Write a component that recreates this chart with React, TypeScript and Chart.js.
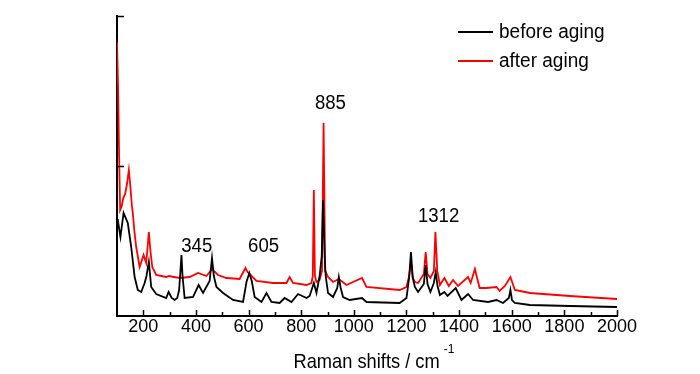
import React, { useEffect, useRef } from "react";
import { Chart, registerables } from "chart.js";

Chart.register(...registerables);

// ---- data (Raman shift in cm^-1, intensity in arbitrary units) ----
const beforeShift = [
  100, 103, 113, 125, 141, 154, 167, 179, 192, 205, 212, 221, 230, 249, 287, 296, 308, 319, 329, 336,
  341, 345, 349, 357, 389, 410, 427, 452, 461, 468, 478, 503, 541, 579, 592, 603, 612, 623, 649, 668, 687,
  718, 737, 763, 788, 820, 832, 848, 858, 870, 878, 883, 889, 893, 902, 921, 937, 943, 950, 959, 984,
  1031, 1048, 1174, 1200, 1210, 1217, 1224, 1232, 1244, 1266, 1273, 1280, 1291, 1304, 1311, 1318, 1327,
  1344, 1356, 1387, 1409, 1434, 1453, 1510, 1542, 1567, 1589, 1595, 1601, 1612, 1669, 1821, 2000,
];
const beforeIntensity = [
  97, 96, 79, 103, 93, 69, 39, 26, 24, 33, 40, 54, 29, 22, 18, 24, 18, 16, 18, 26,
  45, 61, 40, 18, 19, 31, 23, 35, 58, 40, 29, 23, 16, 14, 34, 43, 35, 19, 14, 23, 14,
  13, 18, 14, 22, 18, 20, 33, 23, 40, 60, 116, 60, 40, 23, 19, 28, 39, 28, 19, 16,
  18, 14, 13, 18, 38, 64, 38, 29, 24, 32, 51, 32, 24, 33, 44, 30, 21,
  24, 20, 28, 16, 22, 16, 14, 16, 13, 18, 26, 16, 13, 11, 10, 9,
];
const afterShift = [
  100, 104, 108, 112, 118, 124, 131, 138, 145, 150, 156, 160, 166, 173, 186, 201, 211, 215, 221, 227,
  234, 249, 287, 297, 338, 376, 408, 440, 461, 484, 516, 566, 588, 596, 604, 630, 693, 744, 756, 769,
  820, 839, 844, 848, 852, 858, 870, 879, 885, 891, 902, 921, 943, 972, 1031, 1048, 1174, 1200, 1210,
  1217, 1224, 1232, 1244, 1266, 1273, 1280, 1291, 1304, 1310, 1317, 1327, 1344, 1361, 1377, 1396, 1434,
  1444, 1460, 1478, 1504, 1542, 1554, 1574, 1595, 1612, 1669, 1821, 2000,
];
const afterIntensity = [
  274, 230, 160, 106, 110, 118, 122, 132, 146, 132, 112, 103, 85, 69, 49, 61, 53, 65, 84, 65,
  49, 41, 39, 40, 38, 39, 43, 40, 47, 41, 38, 37, 48, 44, 42, 35, 33, 33, 39, 33,
  31, 33, 40, 126, 40, 34, 36, 45, 193, 45, 39, 34, 37, 31, 38, 29, 26, 29, 40,
  54, 38, 34, 33, 42, 64, 42, 38, 45, 84, 45, 31, 38, 30, 36, 30, 39,
  33, 47, 28, 28, 29, 25, 30, 39, 26, 23, 20, 17,
];

const seriesLabels = ["before aging", "after aging"];
const seriesColors = ["#000000", "#ff0000"];

const xTickValues = [200, 400, 600, 800, 1000, 1200, 1400, 1600, 1800, 2000];
const xMinorTickValues = [300, 500, 700, 900, 1100, 1300, 1500, 1700, 1900];
const yTickValues = [150, 300];

const peakLabels = ["345", "605", "885", "1312"];
const peakLabelX = [403, 657, 911, 1322];
const peakLabelY = [64, 64, 207, 94];

const axisTitle = "Raman shifts / cm";
const axisTitleSup = "-1";

const FONT = "'Liberation Sans', Arial, sans-serif";

function drawText(
  ctx: CanvasRenderingContext2D,
  text: string,
  x: number,
  y: number,
  size: number,
  sx: number,
  align: "left" | "center"
) {
  ctx.save();
  ctx.font = `${size}px ${FONT}`;
  ctx.textBaseline = "alphabetic";
  ctx.textAlign = "left";
  ctx.fillStyle = "#000";
  const w = ctx.measureText(text).width * sx;
  const x0 = align === "center" ? x - w / 2 : x;
  ctx.translate(x0, y);
  ctx.scale(sx, 1);
  ctx.fillText(text, 0, 0);
  ctx.restore();
  return x0 + w;
}

const decorPlugin = {
  id: "decor",
  afterDraw(chart: any) {
    const ctx: CanvasRenderingContext2D = chart.ctx;
    const xs = chart.scales.x;
    const ys = chart.scales.y;
    const area = chart.chartArea;
    ctx.save();
    ctx.strokeStyle = "#000";
    ctx.lineWidth = 1.5;
    // inward x ticks
    xTickValues.forEach((v) => {
      const px = Math.round(xs.getPixelForValue(v)) + 0.5;
      ctx.beginPath();
      ctx.moveTo(px, area.bottom);
      ctx.lineTo(px, area.bottom - 6);
      ctx.stroke();
    });
    xMinorTickValues.forEach((v) => {
      const px = Math.round(xs.getPixelForValue(v)) + 0.5;
      ctx.beginPath();
      ctx.moveTo(px, area.bottom);
      ctx.lineTo(px, area.bottom - 4);
      ctx.stroke();
    });
    // inward y ticks
    yTickValues.forEach((v) => {
      const py = Math.round(ys.getPixelForValue(v)) + 0.5;
      ctx.beginPath();
      ctx.moveTo(area.left, py);
      ctx.lineTo(area.left + 7, py);
      ctx.stroke();
    });
    ctx.restore();

    // legend
    const legendY = [32, 61];
    seriesLabels.forEach((label, i) => {
      ctx.save();
      ctx.strokeStyle = seriesColors[i];
      ctx.lineWidth = 2;
      ctx.beginPath();
      ctx.moveTo(458, legendY[i]);
      ctx.lineTo(493, legendY[i]);
      ctx.stroke();
      ctx.restore();
      drawText(ctx, label, 499, legendY[i] + 5.5, 20, 0.95, "left");
    });

    // peak annotations
    peakLabels.forEach((label, i) => {
      const px = xs.getPixelForValue(peakLabelX[i]);
      const py = ys.getPixelForValue(peakLabelY[i]);
      drawText(ctx, label, px, py, 20, 0.93, "center");
    });

    // axis title with superscript
    const end = drawText(ctx, axisTitle, 293.5, 368, 21, 0.87, "left");
    drawText(ctx, axisTitleSup, end + 4, 353, 12, 1, "left");
  },
};

export default function App() {
  const canvasRef = useRef<HTMLCanvasElement | null>(null);

  useEffect(() => {
    document.body.style.margin = "0";
    const canvas = canvasRef.current;
    if (!canvas) return;
    const chart = new Chart(canvas, {
      type: "line",
      data: {
        datasets: [
          {
            label: seriesLabels[0],
            data: beforeShift.map((x, i) => ({ x, y: beforeIntensity[i] })),
            borderColor: seriesColors[0],
            borderWidth: 1.8,
            pointRadius: 0,
            tension: 0,
            fill: false,
          },
          {
            label: seriesLabels[1],
            data: afterShift.map((x, i) => ({ x, y: afterIntensity[i] })),
            borderColor: seriesColors[1],
            borderWidth: 1.8,
            pointRadius: 0,
            tension: 0,
            fill: false,
          },
        ],
      },
      options: {
        responsive: false,
        animation: false,
        devicePixelRatio: 1,
        layout: { padding: { left: 0, right: 83, top: 16, bottom: 0 } },
        plugins: { legend: { display: false }, tooltip: { enabled: false } },
        scales: {
          x: {
            type: "linear",
            min: 100,
            max: 2000,
            grid: { display: false, drawTicks: false },
            border: { display: true, color: "#000", width: 2 },
            afterBuildTicks: (scale: any) => {
              scale.ticks = xTickValues.map((value) => ({ value }));
            },
            afterFit: (scale: any) => {
              scale.height = 58;
            },
            ticks: {
              color: "#000",
              font: { family: FONT, size: 18 },
              padding: 0,
              maxRotation: 0,
              autoSkip: false,
              callback: (value: any) => String(value),
            },
          },
          y: {
            type: "linear",
            min: 0,
            max: 300,
            grid: { display: false, drawTicks: false },
            border: { display: true, color: "#000", width: 2 },
            ticks: { display: false },
            afterFit: (scale: any) => {
              scale.width = 117;
            },
          },
        },
      },
      plugins: [decorPlugin],
    });
    return () => chart.destroy();
  }, []);

  return (
    <div style={{ width: 700, height: 374 }}>
      <canvas ref={canvasRef} width={700} height={374} style={{ display: "block" }} />
    </div>
  );
}
